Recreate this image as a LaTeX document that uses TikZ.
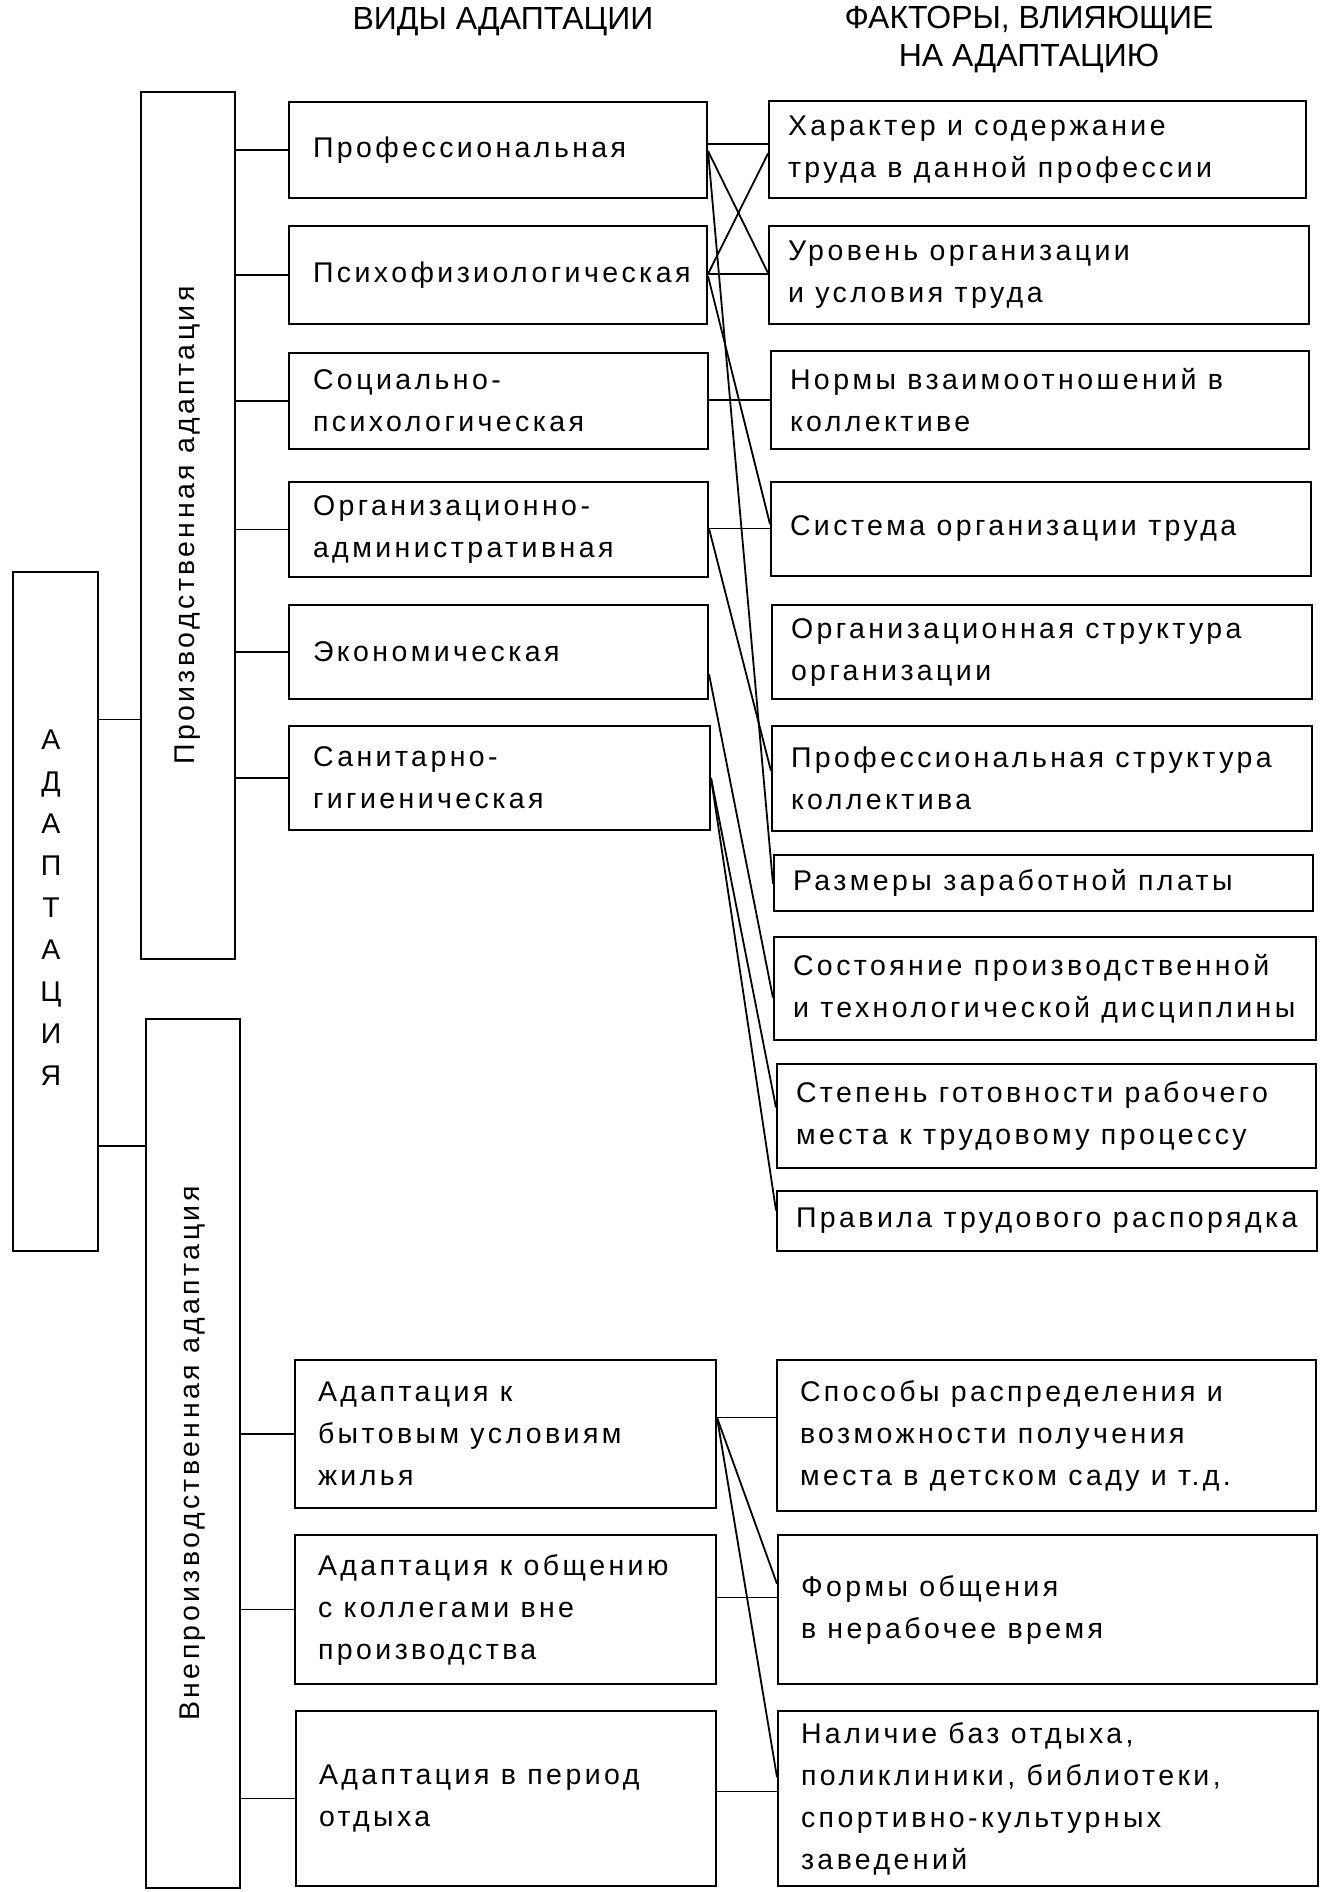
\documentclass[tikz,border=0pt]{standalone}
\usepackage{fontspec}
\setmainfont[LetterSpace=12]{Liberation Sans}
\newfontfamily\hdrfont{Liberation Sans}
\usetikzlibrary{calc}
\begin{document}
\begin{tikzpicture}[x=1pt,y=-1pt,line width=2pt,
  box/.style={draw,anchor=north west,inner sep=0pt},
  txt/.style={anchor=west,align=left,inner sep=0pt,font=\fontsize{28.5}{42}\selectfont},
  hdr/.style={font=\hdrfont\fontsize{32}{38}\selectfont,align=center},
  lbl/.style={font=\fontsize{28.5}{42}\selectfont,align=center},
  lnk/.style={line width=1.8pt}]
\useasboundingbox (0,0) rectangle (1329,1892);

% headers
\node[hdr] (h1) at (503,22) {ВИДЫ АДАПТАЦИИ};
\node[hdr] (h2) at (1029,40) {ФАКТОРЫ, ВЛИЯЮЩИЕ\\НА АДАПТАЦИЮ};

% left column
\node[box,minimum width=85pt,minimum height=679pt] (A) at (12,571) {};
\node[lbl] (Atxt) at (51,908) {А\\Д\\А\\П\\Т\\А\\Ц\\И\\Я};
\node[box,minimum width=94pt,minimum height=867pt] (P) at (140,91) {};
\node[lbl,rotate=90] (Ptxt) at (P.center) {Производственная адаптация};
\node[box,minimum width=94pt,minimum height=869pt] (V) at (145,1018) {};
\node[lbl,rotate=90] (Vtxt) at (V.center) {Внепроизводственная адаптация};

% middle column boxes
\node[box,minimum width=418pt,minimum height=96pt] (m1) at (288,101) {};
\node[box,minimum width=418pt,minimum height=98pt] (m2) at (288,225) {};
\node[box,minimum width=419pt,minimum height=96pt] (m3) at (288,352) {};
\node[box,minimum width=419pt,minimum height=95pt] (m4) at (288,481) {};
\node[box,minimum width=419pt,minimum height=94pt] (m5) at (288,604) {};
\node[box,minimum width=421pt,minimum height=104pt] (m6) at (288,725) {};
\node[box,minimum width=421pt,minimum height=148pt] (m7) at (294,1359) {};
\node[box,minimum width=421pt,minimum height=149pt] (m8) at (294,1534) {};
\node[box,minimum width=420pt,minimum height=175pt] (m9) at (295,1710) {};
% middle column texts
\node[txt] (m1t) at ([xshift=24pt]m1.west) {Профессиональная};
\node[txt] (m2t) at ([xshift=24pt]m2.west) {Психофизиологическая};
\node[txt] (m3t) at ([xshift=24pt]m3.west) {Социально-\\психологическая};
\node[txt] (m4t) at ([xshift=24pt]m4.west) {Организационно-\\административная};
\node[txt] (m5t) at ([xshift=24pt]m5.west) {Экономическая};
\node[txt] (m6t) at ([xshift=24pt]m6.west) {Санитарно-\\гигиеническая};
\node[txt] (m7t) at ([xshift=23pt]m7.west) {Адаптация к\\бытовым условиям\\жилья};
\node[txt] (m8t) at ([xshift=23pt]m8.west) {Адаптация к общению\\с коллегами вне\\производства};
\node[txt] (m9t) at ([xshift=23pt]m9.west) {Адаптация в период\\отдыха};

% right column boxes
\node[box,minimum width=537pt,minimum height=97pt] (f1) at (768,100) {};
\node[box,minimum width=540pt,minimum height=98pt] (f2) at (768,225) {};
\node[box,minimum width=538pt,minimum height=98pt] (f3) at (770,350) {};
\node[box,minimum width=540pt,minimum height=94pt] (f4) at (770,481) {};
\node[box,minimum width=540pt,minimum height=94pt] (f5) at (771,604) {};
\node[box,minimum width=540pt,minimum height=105pt] (f6) at (771,725) {};
\node[box,minimum width=539pt,minimum height=56pt] (f7) at (773,854) {};
\node[box,minimum width=542pt,minimum height=103pt] (f8) at (773,936) {};
\node[box,minimum width=539pt,minimum height=104pt] (f9) at (776,1063) {};
\node[box,minimum width=540pt,minimum height=60pt] (f10) at (776,1190) {};
\node[box,minimum width=539pt,minimum height=151pt] (f11) at (776,1359) {};
\node[box,minimum width=539pt,minimum height=149pt] (f12) at (777,1534) {};
\node[box,minimum width=540pt,minimum height=175pt] (f13) at (777,1710) {};
% right column texts
\node[txt] (f1t) at ([xshift=19pt]f1.west) {Характер и содержание\\труда в данной профессии};
\node[txt] (f2t) at ([xshift=19pt]f2.west) {Уровень организации\\и условия труда};
\node[txt] (f3t) at ([xshift=19pt]f3.west) {Нормы взаимоотношений в\\коллективе};
\node[txt] (f4t) at ([xshift=19pt]f4.west) {Система организации труда};
\node[txt] (f5t) at ([xshift=19pt]f5.west) {Организационная структура\\организации};
\node[txt] (f6t) at ([xshift=19pt]f6.west) {Профессиональная структура\\коллектива};
\node[txt] (f7t) at ([xshift=19pt]f7.west) {Размеры заработной платы};
\node[txt] (f8t) at ([xshift=19pt]f8.west) {Состояние производственной\\и технологической дисциплины};
\node[txt] (f9t) at ([xshift=19pt]f9.west) {Степень готовности рабочего\\места к трудовому процессу};
\node[txt] (f10t) at ([xshift=19pt]f10.west) {Правила трудового распорядка};
\node[txt] (f11t) at ([xshift=23pt]f11.west) {Способы распределения и\\возможности получения\\места в детском саду и т.д.};
\node[txt] (f12t) at ([xshift=23pt]f12.west) {Формы общения\\в нерабочее время};
\node[txt] (f13t) at ([xshift=23pt]f13.west) {Наличие баз отдыха,\\поликлиники, библиотеки,\\спортивно-культурных\\заведений};

% left tree links
\coordinate (aP) at ($(A.north east)!0.218!(A.south east)$);
\coordinate (aV) at ($(A.north east)!0.844!(A.south east)$);
\draw[lnk] (aP) -- (aP -| P.west);
\draw[lnk] (aV) -- (aV -| V.west);
\foreach \m in {m1,m2,m3,m4,m5,m6}{\draw[lnk] (\m.west -| P.east) -- (\m.west);}
\foreach \m in {m7,m8,m9}{\draw[lnk] (\m.west -| V.east) -- (\m.west);}

% middle -> factor links
\coordinate (p1a) at ($(m1.north east)!0.44!(m1.south east)$);
\coordinate (p1b) at ($(m1.north east)!0.51!(m1.south east)$);
\coordinate (p2a) at ($(m2.north east)!0.49!(m2.south east)$);
\coordinate (p2b) at ($(m2.north east)!0.51!(m2.south east)$);
\coordinate (p3) at ($(m3.north east)!0.49!(m3.south east)$);
\coordinate (p4) at ($(m4.north east)!0.49!(m4.south east)$);
\coordinate (p5) at ($(m5.north east)!0.73!(m5.south east)$);
\coordinate (p6) at ($(m6.north east)!0.5!(m6.south east)$);
\coordinate (p7) at ($(m7.north east)!0.39!(m7.south east)$);
\coordinate (p8) at ($(m8.north east)!0.42!(m8.south east)$);
\coordinate (p9) at ($(m9.north east)!0.46!(m9.south east)$);

\draw[lnk] (p1a) -- (p1a -| f1.west);
\draw[lnk] (p1b) -- ($(f2.north west)!0.48!(f2.south west)$);
\draw[lnk] (p1b) -- ($(f7.north west)!0.52!(f7.south west)$);
\draw[lnk] (p2a) -- ($(f1.north west)!0.54!(f1.south west)$);
\draw[lnk] (p2a) -- (p2a -| f2.west);
\draw[lnk] (p2b) -- ($(f4.north west)!0.45!(f4.south west)$);
\draw[lnk] (p3) -- (p3 -| f3.west);
\draw[lnk] (p4) -- (p4 -| f4.west);
\draw[lnk] (p4) -- ($(f6.north west)!0.43!(f6.south west)$);
\draw[lnk] (p5) -- ($(f8.north west)!0.59!(f8.south west)$);
\draw[lnk] (p6) -- ($(f9.north west)!0.42!(f9.south west)$);
\draw[lnk] (p6) -- ($(f10.north west)!0.33!(f10.south west)$);
\draw[lnk] (p7) -- (p7 -| f11.west);
\draw[lnk] (p7) -- ($(f12.north west)!0.33!(f12.south west)$);
\draw[lnk] (p7) -- ($(f13.north west)!0.38!(f13.south west)$);
\draw[lnk] (p8) -- (p8 -| f12.west);
\draw[lnk] (p9) -- (p9 -| f13.west);
\end{tikzpicture}
\end{document}
